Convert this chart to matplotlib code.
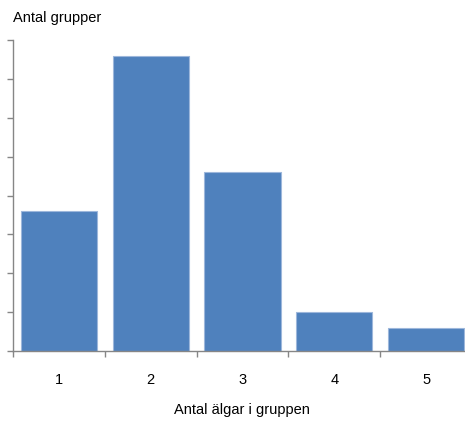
import matplotlib
matplotlib.use('Agg')
from matplotlib import pyplot as plt

# group size vs number of groups
categories = ['1', '2', '3', '4', '5']
counts = [18, 38, 23, 5, 3]

AXIS_GRAY = '#868686'
BAR_BLUE = '#4F81BD'

plt.rcParams['font.family'] = ['Liberation Sans', 'DejaVu Sans']

fig = plt.figure(figsize=(4.65, 4.21), dpi=100)
# axes runs slightly past the right edge, like the original
ax = fig.add_axes([13 / 465, 1 - 351 / 421, 459 / 465, 311 / 421])

x = range(len(categories))
ax.bar(x, counts, width=0.83, color=BAR_BLUE, edgecolor='#9DB7DB', linewidth=0.8, zorder=2)

ax.set_xlim(-0.5, len(categories) - 0.5)
ax.set_ylim(0, 40)
ax.set_yticks(range(0, 41, 5))
ax.set_yticklabels([])
ax.set_xticks([i - 0.5 for i in range(len(categories) + 1)])
ax.set_xticklabels([])
ax.set_xticks(list(x), minor=True)
ax.set_xticklabels(categories, minor=True, fontsize=10.5)
ax.tick_params(axis='x', which='minor', length=0, pad=16)
ax.tick_params(axis='both', which='major', direction='out', length=4, width=1, color=AXIS_GRAY)

for side in ['top', 'right']:
    ax.spines[side].set_visible(False)
for side in ['left', 'bottom']:
    ax.spines[side].set_color(AXIS_GRAY)
    ax.spines[side].set_linewidth(1)

fig.text(242 / 465, 1 - 410 / 421, 'Antal älgar i gruppen', fontsize=10.5, va='center', ha='center')
fig.text(13 / 465, 1 - 18 / 421, 'Antal grupper', fontsize=10.5, va='center', ha='left')

fig.savefig('out.png', dpi=100)
